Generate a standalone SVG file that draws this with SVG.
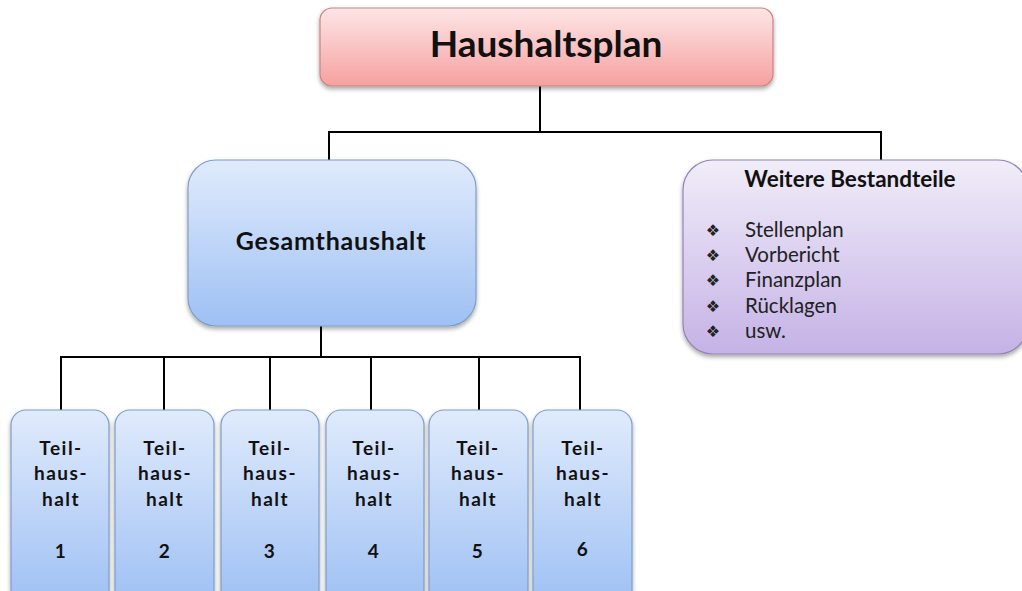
<svg xmlns="http://www.w3.org/2000/svg" width="1022" height="591" viewBox="0 0 1022 591">
<defs>
<linearGradient id="gRed" x1="0" y1="0" x2="0" y2="1"><stop offset="0" stop-color="#fde6e6"/><stop offset="1" stop-color="#f6a0a0"/></linearGradient>
<linearGradient id="gBlue" x1="0" y1="0" x2="0" y2="1"><stop offset="0" stop-color="#e0ebfc"/><stop offset="1" stop-color="#9ec0f4"/></linearGradient>
<linearGradient id="gPurple" x1="0" y1="0" x2="0" y2="1"><stop offset="0" stop-color="#f1edf9"/><stop offset="1" stop-color="#c5b2e6"/></linearGradient>
<filter id="sh" x="-10%" y="-10%" width="120%" height="130%"><feDropShadow dx="0" dy="2.5" stdDeviation="2" flood-color="#000" flood-opacity="0.35"/></filter>
</defs>
<style>
.red{fill:url(#gRed);stroke:#c98484;stroke-width:1.2}
.blue{fill:url(#gBlue);stroke:#7f9dc9;stroke-width:1.2}
.purple{fill:url(#gPurple);stroke:#9484b4;stroke-width:1.2}
.t{font-family:Lato,"Liberation Sans",sans-serif;font-weight:bold;fill:#111;text-anchor:middle}
.teil{font-family:Lato,"Liberation Sans",sans-serif;font-weight:bold;fill:#111;text-anchor:middle;font-size:19px;letter-spacing:1.5px}
.li{font-family:Lato,"Liberation Sans",sans-serif;font-size:20.5px;fill:#222}
.bul{font-family:"DejaVu Sans",sans-serif;font-size:16px;fill:#222;text-anchor:middle}
.c{stroke:#000;stroke-width:2;fill:none}
</style>
<rect width="1022" height="591" fill="#fff"/>
<g id="connectors">
<path class="c" d="M540 86V132M329 160V132H881V160"/>
<path class="c" d="M321 326V357M61 410V357H580V410M164 357V410M270 357V410M371 357V410M479 357V410"/>
</g>
<g id="haushaltsplan">
<rect class="red" x="320" y="8" width="453" height="78" rx="12" filter="url(#sh)"/>
<text class="t" x="546" y="57" font-size="37">Haushaltsplan</text>
</g>
<g id="gesamthaushalt">
<rect class="blue" x="188" y="160" width="288" height="166" rx="28" filter="url(#sh)"/>
<text class="t" x="331" y="250" font-size="25" letter-spacing="0.8">Gesamthaushalt</text>
</g>
<g id="weitere">
<rect class="purple" x="683" y="160" width="345" height="194" rx="30" filter="url(#sh)"/>
<text class="t" x="850" y="187" font-size="22.5">Weitere Bestandteile</text>
<text class="bul" x="713" y="236">❖</text><text class="li" x="745" y="237">Stellenplan</text>
<text class="bul" x="713" y="261">❖</text><text class="li" x="745" y="262">Vorbericht</text>
<text class="bul" x="713" y="286">❖</text><text class="li" x="745" y="287">Finanzplan</text>
<text class="bul" x="713" y="312">❖</text><text class="li" x="745" y="313">Rücklagen</text>
<text class="bul" x="713" y="337">❖</text><text class="li" x="745" y="338">usw.</text>
</g>
<g id="teil1">
<rect class="blue" x="11" y="410" width="98" height="195" rx="15" filter="url(#sh)"/>
<text class="teil" x="61" y="455">Teil-</text><text class="teil" x="61" y="480">haus-</text><text class="teil" x="61" y="506">halt</text><text class="teil" x="61" y="558">1</text>
</g>
<g id="teil2">
<rect class="blue" x="115" y="410" width="99" height="195" rx="15" filter="url(#sh)"/>
<text class="teil" x="165" y="455">Teil-</text><text class="teil" x="165" y="480">haus-</text><text class="teil" x="165" y="506">halt</text><text class="teil" x="165" y="558">2</text>
</g>
<g id="teil3">
<rect class="blue" x="221" y="410" width="98" height="195" rx="15" filter="url(#sh)"/>
<text class="teil" x="270" y="455">Teil-</text><text class="teil" x="270" y="480">haus-</text><text class="teil" x="270" y="506">halt</text><text class="teil" x="270" y="558">3</text>
</g>
<g id="teil4">
<rect class="blue" x="326" y="410" width="98" height="195" rx="15" filter="url(#sh)"/>
<text class="teil" x="374" y="455">Teil-</text><text class="teil" x="374" y="480">haus-</text><text class="teil" x="374" y="506">halt</text><text class="teil" x="374" y="558">4</text>
</g>
<g id="teil5">
<rect class="blue" x="429" y="410" width="99" height="195" rx="15" filter="url(#sh)"/>
<text class="teil" x="478" y="455">Teil-</text><text class="teil" x="478" y="480">haus-</text><text class="teil" x="478" y="506">halt</text><text class="teil" x="478" y="558">5</text>
</g>
<g id="teil6">
<rect class="blue" x="533" y="410" width="99" height="195" rx="15" filter="url(#sh)"/>
<text class="teil" x="583" y="455">Teil-</text><text class="teil" x="583" y="480">haus-</text><text class="teil" x="583" y="506">halt</text><text class="teil" x="583" y="556">6</text>
</g>
</svg>
